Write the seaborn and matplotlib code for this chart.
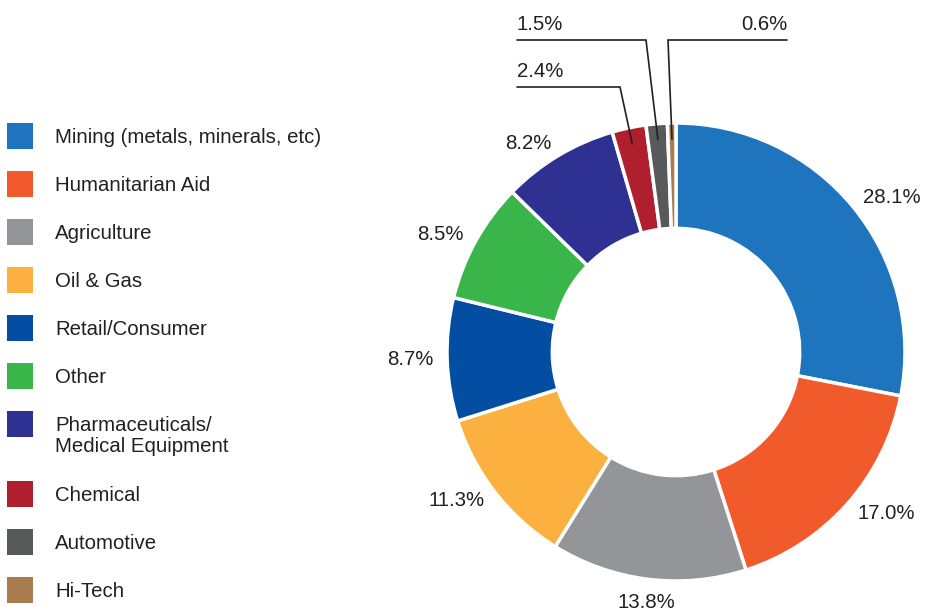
import matplotlib
matplotlib.use('Agg')
import numpy as np
import matplotlib.pyplot as plt
from matplotlib.patches import Rectangle
import seaborn as sns

# data
categories = ['Mining (metals, minerals, etc)', 'Humanitarian Aid', 'Agriculture', 'Oil & Gas',
              'Retail/Consumer', 'Other', 'Pharmaceuticals/\nMedical Equipment', 'Chemical',
              'Automotive', 'Hi-Tech']
shares = [28.1, 17.0, 13.8, 11.3, 8.7, 8.5, 8.2, 2.4, 1.5, 0.6]
pct_labels = ['28.1%', '17.0%', '13.8%', '11.3%', '8.7%', '8.5%', '8.2%', '2.4%', '1.5%', '0.6%']
colors = ['#1F75BD', '#F15A2B', '#939598', '#FBB040', '#034EA2',
          '#39B54A', '#2E3192', '#AF1F2E', '#58595B', '#A97C50']

sns.set_theme(style='white')
plt.rcParams['font.family'] = ['Liberation Sans', 'DejaVu Sans']
text_color = '#231F20'
fs = 14.7

W, H = 925, 613
fig = plt.figure(figsize=(W / 100, H / 100), dpi=100)

# donut: centre and outer radius in pixels
cx, cy, R = 676, 352, 229
ax = fig.add_axes([(cx - R) / W, (H - cy - R) / H, 2 * R / W, 2 * R / H])
wedges, _ = ax.pie(shares, colors=colors, startangle=90, counterclock=False, radius=1,
                   wedgeprops=dict(width=0.46, edgecolor='white', linewidth=2.5))
ax.set_xlim(-1, 1)
ax.set_ylim(-1, 1)
ax.set_aspect('equal')
ax.axis('off')


def px(x, y):
    # pixel position -> pie data coords
    return (x - cx) / R, (cy - y) / R


# small slices get leader lines: (elbow x, line y, line end x, label side)
leaders = {7: (620, 87, 517, 'left'),
           8: (646, 40, 517, 'left'),
           9: (668, 40, 787, 'right')}

for i, w in enumerate(wedges):
    mid = np.deg2rad((w.theta1 + w.theta2) / 2)
    if i in leaders:
        ex, ly, endx, side = leaders[i]
        r0 = 0.93
        x0, y0 = r0 * np.cos(mid), r0 * np.sin(mid)
        x1, y1 = px(ex, ly)
        x2, _ = px(endx, ly)
        ax.plot([x0, x1, x2], [y0, y1, y1], color=text_color, lw=1.2, clip_on=False,
                solid_joinstyle='miter')
        tx, ty = px(endx, ly - 10)
        ax.text(tx, ty, pct_labels[i], ha=side, va='baseline', fontsize=fs, color=text_color)
    else:
        r = 1.06
        c, s = np.cos(mid), np.sin(mid)
        if abs(c) < 0.2:
            ha = 'center'
            va = 'top' if s < 0 else 'bottom'
        else:
            ha = 'left' if c > 0 else 'right'
            va = 'center'
        ax.text(r * c, r * s, pct_labels[i], ha=ha, va=va, fontsize=fs, color=text_color)

# legend drawn by hand, pixel coordinates
lax = fig.add_axes([0, 0, 1, 1], zorder=-1)
lax.set_xlim(0, W)
lax.set_ylim(H, 0)
lax.axis('off')
y = 135.5
for name, col in zip(categories, colors):
    extra = name.count('\n')
    lax.add_patch(Rectangle((7, y - 13), 26, 26, color=col, lw=0))
    # baseline of a multi-line text is its last line
    lax.text(55, y + 7.2 + 21 * extra, name, ha='left', va='baseline', fontsize=fs,
             color=text_color, linespacing=1.1)
    y += 48 + 22 * extra

fig.savefig('out.png', dpi=100)
